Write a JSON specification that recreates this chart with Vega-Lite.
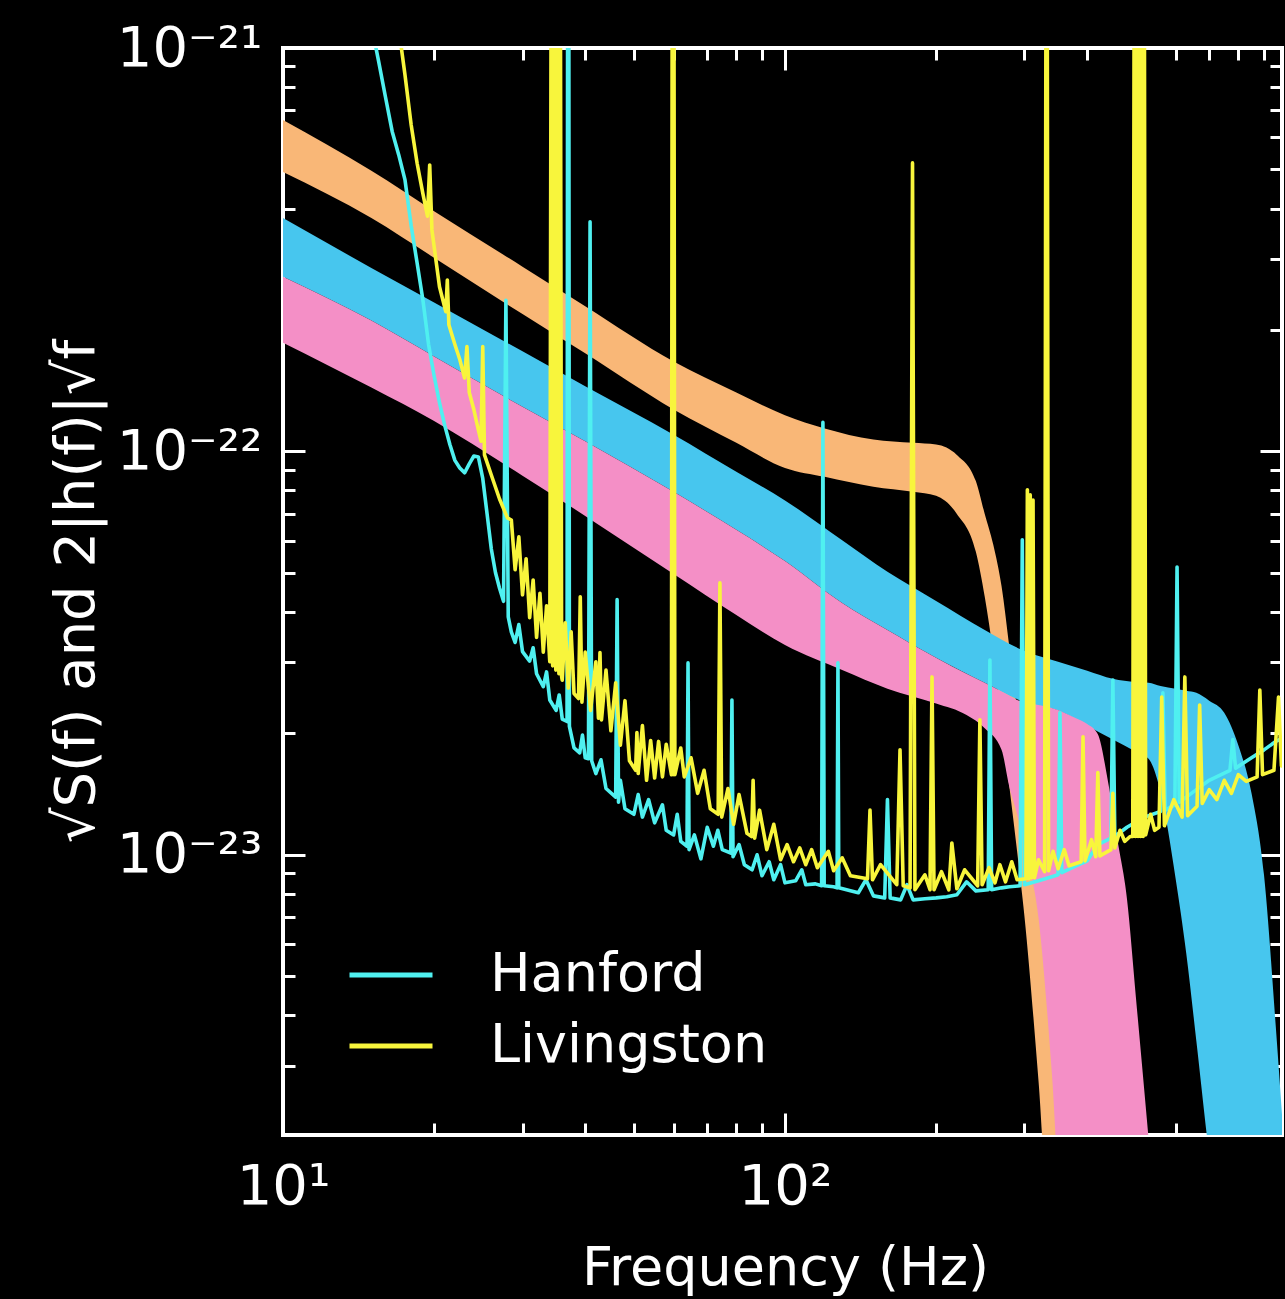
{
"$schema": "https://vega.github.io/schema/vega-lite/v6.json",
"width": 999,
"height": 1087,
"autosize": {"type": "none"},
"padding": {"left": 283, "top": 48, "right": 3, "bottom": 164},
"background": "black",
"config": {
  "view": {"stroke": "white", "strokeWidth": 4, "fill": "black"},
  "axis": {"domain": false, "grid": false, "tickColor": "white", "tickWidth": 3, "labelColor": "white", "titleColor": "white", "labelFont": "DejaVu Sans", "titleFont": "DejaVu Sans", "labelFontSize": 56, "titleFontSize": 54, "titleFontWeight": "normal", "labelOverlap": false, "labelFlush": false, "labelBound": false}
},
"datasets": {
"bands": [
{"band":"waveform 1","f":10,"hi":6.63e-22,"lo":4.93e-22},
{"band":"waveform 1","f":15,"hi":4.96e-22,"lo":3.79e-22},
{"band":"waveform 1","f":20,"hi":3.94e-22,"lo":3.02e-22},
{"band":"waveform 1","f":30,"hi":2.87e-22,"lo":2.19e-22},
{"band":"waveform 1","f":40,"hi":2.29e-22,"lo":1.75e-22},
{"band":"waveform 1","f":60,"hi":1.67e-22,"lo":1.27e-22},
{"band":"waveform 1","f":80,"hi":1.40e-22,"lo":1.05e-22},
{"band":"waveform 1","f":100,"hi":1.23e-22,"lo":9.10e-23},
{"band":"waveform 1","f":120,"hi":1.14e-22,"lo":8.65e-23},
{"band":"waveform 1","f":150,"hi":1.07e-22,"lo":8.17e-23},
{"band":"waveform 1","f":180,"hi":1.05e-22,"lo":7.94e-23},
{"band":"waveform 1","f":200,"hi":1.04e-22,"lo":7.76e-23},
{"band":"waveform 1","f":220,"hi":9.80e-23,"lo":7.00e-23},
{"band":"waveform 1","f":240,"hi":8.45e-23,"lo":5.64e-23},
{"band":"waveform 1","f":250,"hi":7.00e-23,"lo":4.36e-23},
{"band":"waveform 1","f":260,"hi":5.87e-23,"lo":3.15e-23},
{"band":"waveform 1","f":270,"hi":4.64e-23,"lo":2.14e-23},
{"band":"waveform 1","f":280,"hi":3.26e-23,"lo":1.47e-23},
{"band":"waveform 1","f":290,"hi":2.28e-23,"lo":1.02e-23},
{"band":"waveform 1","f":300,"hi":1.60e-23,"lo":7.02e-24},
{"band":"waveform 1","f":320,"hi":7.87e-24,"lo":2.74e-24},
{"band":"waveform 1","f":340,"hi":3.52e-24,"lo":1e-24},
{"band":"waveform 1","f":360,"hi":1.54e-24,"lo":1e-24},
{"band":"waveform 2","f":10,"hi":3.79e-22,"lo":2.71e-22},
{"band":"waveform 2","f":15,"hi":2.85e-22,"lo":2.11e-22},
{"band":"waveform 2","f":20,"hi":2.34e-22,"lo":1.72e-22},
{"band":"waveform 2","f":30,"hi":1.77e-22,"lo":1.29e-22},
{"band":"waveform 2","f":40,"hi":1.45e-22,"lo":1.06e-22},
{"band":"waveform 2","f":60,"hi":1.10e-22,"lo":7.94e-23},
{"band":"waveform 2","f":80,"hi":8.90e-23,"lo":6.39e-23},
{"band":"waveform 2","f":100,"hi":7.56e-23,"lo":5.35e-23},
{"band":"waveform 2","f":130,"hi":6.02e-23,"lo":4.21e-23},
{"band":"waveform 2","f":160,"hi":5.03e-23,"lo":3.61e-23},
{"band":"waveform 2","f":200,"hi":4.26e-23,"lo":3.08e-23},
{"band":"waveform 2","f":250,"hi":3.61e-23,"lo":2.67e-23},
{"band":"waveform 2","f":300,"hi":3.20e-23,"lo":2.39e-23},
{"band":"waveform 2","f":350,"hi":3.01e-23,"lo":2.28e-23},
{"band":"waveform 2","f":400,"hi":2.86e-23,"lo":2.09e-23},
{"band":"waveform 2","f":450,"hi":2.73e-23,"lo":1.93e-23},
{"band":"waveform 2","f":500,"hi":2.68e-23,"lo":1.80e-23},
{"band":"waveform 2","f":530,"hi":2.67e-23,"lo":1.73e-23},
{"band":"waveform 2","f":560,"hi":2.62e-23,"lo":1.43e-23},
{"band":"waveform 2","f":600,"hi":2.58e-23,"lo":8.74e-24},
{"band":"waveform 2","f":630,"hi":2.55e-23,"lo":5.70e-24},
{"band":"waveform 2","f":660,"hi":2.52e-23,"lo":3.45e-24},
{"band":"waveform 2","f":700,"hi":2.41e-23,"lo":1.8e-24},
{"band":"waveform 2","f":750,"hi":2.25e-23,"lo":1e-24},
{"band":"waveform 2","f":800,"hi":1.87e-23,"lo":1e-24},
{"band":"waveform 2","f":850,"hi":1.42e-23,"lo":1e-24},
{"band":"waveform 2","f":900,"hi":8.92e-24,"lo":1e-24},
{"band":"waveform 2","f":950,"hi":3.75e-24,"lo":1e-24},
{"band":"waveform 2","f":1000,"hi":1.50e-24,"lo":1e-24},
{"band":"waveform 3","f":10,"hi":2.71e-22,"lo":1.86e-22},
{"band":"waveform 3","f":15,"hi":2.11e-22,"lo":1.44e-22},
{"band":"waveform 3","f":20,"hi":1.72e-22,"lo":1.19e-22},
{"band":"waveform 3","f":30,"hi":1.29e-22,"lo":8.70e-23},
{"band":"waveform 3","f":40,"hi":1.06e-22,"lo":6.92e-23},
{"band":"waveform 3","f":60,"hi":7.94e-23,"lo":4.97e-23},
{"band":"waveform 3","f":80,"hi":6.39e-23,"lo":3.93e-23},
{"band":"waveform 3","f":100,"hi":5.35e-23,"lo":3.31e-23},
{"band":"waveform 3","f":130,"hi":4.21e-23,"lo":2.87e-23},
{"band":"waveform 3","f":160,"hi":3.61e-23,"lo":2.58e-23},
{"band":"waveform 3","f":200,"hi":3.08e-23,"lo":2.37e-23},
{"band":"waveform 3","f":230,"hi":2.81e-23,"lo":2.22e-23},
{"band":"waveform 3","f":250,"hi":2.67e-23,"lo":2.06e-23},
{"band":"waveform 3","f":270,"hi":2.54e-23,"lo":1.82e-23},
{"band":"waveform 3","f":280,"hi":2.48e-23,"lo":1.47e-23},
{"band":"waveform 3","f":290,"hi":2.42e-23,"lo":1.26e-23},
{"band":"waveform 3","f":300,"hi":2.39e-23,"lo":1.04e-23},
{"band":"waveform 3","f":320,"hi":2.35e-23,"lo":6.96e-24},
{"band":"waveform 3","f":340,"hi":2.31e-23,"lo":2.90e-24},
{"band":"waveform 3","f":360,"hi":2.25e-23,"lo":1e-24},
{"band":"waveform 3","f":380,"hi":2.18e-23,"lo":1e-24},
{"band":"waveform 3","f":400,"hi":2.11e-23,"lo":1e-24},
{"band":"waveform 3","f":420,"hi":1.99e-23,"lo":1e-24},
{"band":"waveform 3","f":440,"hi":1.52e-23,"lo":1e-24},
{"band":"waveform 3","f":460,"hi":1.08e-23,"lo":1e-24},
{"band":"waveform 3","f":480,"hi":7.78e-24,"lo":1e-24},
{"band":"waveform 3","f":500,"hi":4.45e-24,"lo":1e-24},
{"band":"waveform 3","f":550,"hi":1.18e-24,"lo":1e-24}
],
"noise": [
{"detector":"Hanford","f":15.2,"asd":1.05e-21},
{"detector":"Hanford","f":15.5,"asd":9.29e-22},
{"detector":"Hanford","f":16,"asd":7.56e-22},
{"detector":"Hanford","f":16.5,"asd":6.21e-22},
{"detector":"Hanford","f":17,"asd":5.44e-22},
{"detector":"Hanford","f":17.5,"asd":4.71e-22},
{"detector":"Hanford","f":18,"asd":3.63e-22},
{"detector":"Hanford","f":18.5,"asd":2.93e-22},
{"detector":"Hanford","f":19,"asd":2.37e-22},
{"detector":"Hanford","f":19.5,"asd":1.84e-22},
{"detector":"Hanford","f":20,"asd":1.54e-22},
{"detector":"Hanford","f":20.5,"asd":1.32e-22},
{"detector":"Hanford","f":21,"asd":1.16e-22},
{"detector":"Hanford","f":21.5,"asd":1.04e-22},
{"detector":"Hanford","f":22,"asd":9.50e-23},
{"detector":"Hanford","f":22.5,"asd":9.10e-23},
{"detector":"Hanford","f":23,"asd":8.85e-23},
{"detector":"Hanford","f":23.5,"asd":9.31e-23},
{"detector":"Hanford","f":24,"asd":9.74e-23},
{"detector":"Hanford","f":24.5,"asd":9.69e-23},
{"detector":"Hanford","f":25,"asd":8.57e-23},
{"detector":"Hanford","f":25.5,"asd":7.00e-23},
{"detector":"Hanford","f":26,"asd":5.73e-23},
{"detector":"Hanford","f":26.5,"asd":5.01e-23},
{"detector":"Hanford","f":27,"asd":4.58e-23},
{"detector":"Hanford","f":27.5,"asd":4.25e-23},
{"detector":"Hanford","f":27.8,"asd":2.37e-22},
{"detector":"Hanford","f":28.1,"asd":3.89e-23},
{"detector":"Hanford","f":28.5,"asd":3.57e-23},
{"detector":"Hanford","f":29,"asd":3.36e-23},
{"detector":"Hanford","f":29.5,"asd":3.72e-23},
{"detector":"Hanford","f":30,"asd":3.19e-23},
{"detector":"Hanford","f":31,"asd":3.02e-23},
{"detector":"Hanford","f":31.5,"asd":3.26e-23},
{"detector":"Hanford","f":32,"asd":2.81e-23},
{"detector":"Hanford","f":33,"asd":2.61e-23},
{"detector":"Hanford","f":33.5,"asd":2.84e-23},
{"detector":"Hanford","f":34,"asd":2.42e-23},
{"detector":"Hanford","f":35,"asd":2.28e-23},
{"detector":"Hanford","f":35.5,"asd":2.49e-23},
{"detector":"Hanford","f":36,"asd":2.17e-23},
{"detector":"Hanford","f":36.8,"asd":2.14e-23},
{"detector":"Hanford","f":36.9,"asd":1.5e-21},
{"detector":"Hanford","f":37.1,"asd":1.5e-21},
{"detector":"Hanford","f":37.2,"asd":2.08e-23},
{"detector":"Hanford","f":38,"asd":1.84e-23},
{"detector":"Hanford","f":39,"asd":1.79e-23},
{"detector":"Hanford","f":39.5,"asd":1.98e-23},
{"detector":"Hanford","f":40,"asd":1.74e-23},
{"detector":"Hanford","f":40.6,"asd":1.73e-23},
{"detector":"Hanford","f":40.9,"asd":3.71e-22},
{"detector":"Hanford","f":41.2,"asd":1.71e-23},
{"detector":"Hanford","f":42,"asd":1.59e-23},
{"detector":"Hanford","f":43,"asd":1.72e-23},
{"detector":"Hanford","f":44,"asd":1.46e-23},
{"detector":"Hanford","f":46,"asd":1.39e-23},
{"detector":"Hanford","f":46.3,"asd":4.29e-23},
{"detector":"Hanford","f":46.6,"asd":1.35e-23},
{"detector":"Hanford","f":47,"asd":1.53e-23},
{"detector":"Hanford","f":48,"asd":1.30e-23},
{"detector":"Hanford","f":50,"asd":1.26e-23},
{"detector":"Hanford","f":51,"asd":1.41e-23},
{"detector":"Hanford","f":52,"asd":1.24e-23},
{"detector":"Hanford","f":53.5,"asd":1.37e-23},
{"detector":"Hanford","f":55,"asd":1.20e-23},
{"detector":"Hanford","f":57,"asd":1.33e-23},
{"detector":"Hanford","f":58,"asd":1.15e-23},
{"detector":"Hanford","f":60,"asd":1.12e-23},
{"detector":"Hanford","f":61,"asd":1.26e-23},
{"detector":"Hanford","f":62,"asd":1.08e-23},
{"detector":"Hanford","f":63.8,"asd":1.05e-23},
{"detector":"Hanford","f":64.1,"asd":2.99e-23},
{"detector":"Hanford","f":64.4,"asd":1.03e-23},
{"detector":"Hanford","f":66,"asd":1.12e-23},
{"detector":"Hanford","f":68,"asd":9.77e-24},
{"detector":"Hanford","f":70,"asd":1.17e-23},
{"detector":"Hanford","f":72,"asd":1.05e-23},
{"detector":"Hanford","f":73.5,"asd":1.15e-23},
{"detector":"Hanford","f":75,"asd":1.03e-23},
{"detector":"Hanford","f":78,"asd":1.01e-23},
{"detector":"Hanford","f":78.4,"asd":2.42e-23},
{"detector":"Hanford","f":78.8,"asd":9.89e-24},
{"detector":"Hanford","f":81,"asd":1.06e-23},
{"detector":"Hanford","f":83,"asd":9.45e-24},
{"detector":"Hanford","f":86,"asd":9.18e-24},
{"detector":"Hanford","f":88,"asd":1.00e-23},
{"detector":"Hanford","f":90,"asd":8.87e-24},
{"detector":"Hanford","f":93,"asd":9.61e-24},
{"detector":"Hanford","f":95,"asd":8.67e-24},
{"detector":"Hanford","f":98,"asd":9.45e-24},
{"detector":"Hanford","f":100,"asd":8.52e-24},
{"detector":"Hanford","f":105,"asd":8.62e-24},
{"detector":"Hanford","f":108,"asd":9.18e-24},
{"detector":"Hanford","f":110,"asd":8.43e-24},
{"detector":"Hanford","f":115,"asd":8.47e-24},
{"detector":"Hanford","f":118.3,"asd":8.38e-24},
{"detector":"Hanford","f":119,"asd":1.18e-22},
{"detector":"Hanford","f":119.7,"asd":8.38e-24},
{"detector":"Hanford","f":125,"asd":8.33e-24},
{"detector":"Hanford","f":127,"asd":8.28e-24},
{"detector":"Hanford","f":127.5,"asd":2.99e-23},
{"detector":"Hanford","f":128,"asd":8.28e-24},
{"detector":"Hanford","f":135,"asd":8.14e-24},
{"detector":"Hanford","f":140,"asd":8.05e-24},
{"detector":"Hanford","f":145,"asd":8.67e-24},
{"detector":"Hanford","f":150,"asd":7.91e-24},
{"detector":"Hanford","f":158,"asd":7.82e-24},
{"detector":"Hanford","f":160,"asd":1.37e-23},
{"detector":"Hanford","f":162,"asd":7.82e-24},
{"detector":"Hanford","f":170,"asd":7.73e-24},
{"detector":"Hanford","f":175,"asd":8.43e-24},
{"detector":"Hanford","f":180,"asd":7.73e-24},
{"detector":"Hanford","f":190,"asd":7.78e-24},
{"detector":"Hanford","f":200,"asd":7.82e-24},
{"detector":"Hanford","f":210,"asd":7.87e-24},
{"detector":"Hanford","f":220,"asd":7.96e-24},
{"detector":"Hanford","f":230,"asd":8.57e-24},
{"detector":"Hanford","f":240,"asd":8.14e-24},
{"detector":"Hanford","f":254,"asd":8.19e-24},
{"detector":"Hanford","f":256,"asd":3.04e-23},
{"detector":"Hanford","f":258,"asd":8.19e-24},
{"detector":"Hanford","f":270,"asd":8.28e-24},
{"detector":"Hanford","f":280,"asd":8.33e-24},
{"detector":"Hanford","f":294,"asd":8.38e-24},
{"detector":"Hanford","f":297,"asd":6.04e-23},
{"detector":"Hanford","f":300,"asd":8.43e-24},
{"detector":"Hanford","f":320,"asd":8.62e-24},
{"detector":"Hanford","f":340,"asd":8.82e-24},
{"detector":"Hanford","f":350,"asd":8.92e-24},
{"detector":"Hanford","f":353,"asd":2.25e-23},
{"detector":"Hanford","f":356,"asd":9.03e-24},
{"detector":"Hanford","f":380,"asd":9.39e-24},
{"detector":"Hanford","f":400,"asd":9.66e-24},
{"detector":"Hanford","f":420,"asd":1.06e-23},
{"detector":"Hanford","f":446,"asd":1.10e-23},
{"detector":"Hanford","f":450,"asd":2.71e-23},
{"detector":"Hanford","f":454,"asd":1.11e-23},
{"detector":"Hanford","f":480,"asd":1.17e-23},
{"detector":"Hanford","f":520,"asd":1.24e-23},
{"detector":"Hanford","f":560,"asd":1.28e-23},
{"detector":"Hanford","f":566,"asd":2.52e-23},
{"detector":"Hanford","f":572,"asd":1.29e-23},
{"detector":"Hanford","f":598,"asd":1.33e-23},
{"detector":"Hanford","f":604,"asd":5.17e-23},
{"detector":"Hanford","f":610,"asd":1.35e-23},
{"detector":"Hanford","f":650,"asd":1.43e-23},
{"detector":"Hanford","f":700,"asd":1.53e-23},
{"detector":"Hanford","f":770,"asd":1.62e-23},
{"detector":"Hanford","f":780,"asd":1.93e-23},
{"detector":"Hanford","f":790,"asd":1.64e-23},
{"detector":"Hanford","f":850,"asd":1.74e-23},
{"detector":"Hanford","f":900,"asd":1.82e-23},
{"detector":"Hanford","f":950,"asd":1.91e-23},
{"detector":"Hanford","f":1000,"asd":1.97e-23},
{"detector":"Livingston","f":17,"asd":1.12e-21},
{"detector":"Livingston","f":17.5,"asd":8.57e-22},
{"detector":"Livingston","f":18,"asd":6.45e-22},
{"detector":"Livingston","f":18.5,"asd":5.18e-22},
{"detector":"Livingston","f":19,"asd":4.35e-22},
{"detector":"Livingston","f":19.4,"asd":3.83e-22},
{"detector":"Livingston","f":19.6,"asd":5.13e-22},
{"detector":"Livingston","f":19.8,"asd":3.54e-22},
{"detector":"Livingston","f":20.5,"asd":2.56e-22},
{"detector":"Livingston","f":21.1,"asd":2.22e-22},
{"detector":"Livingston","f":21.25,"asd":2.66e-22},
{"detector":"Livingston","f":21.4,"asd":2.06e-22},
{"detector":"Livingston","f":22,"asd":1.84e-22},
{"detector":"Livingston","f":22.5,"asd":1.69e-22},
{"detector":"Livingston","f":23,"asd":1.52e-22},
{"detector":"Livingston","f":23.25,"asd":1.82e-22},
{"detector":"Livingston","f":23.5,"asd":1.40e-22},
{"detector":"Livingston","f":24,"asd":1.27e-22},
{"detector":"Livingston","f":24.5,"asd":1.13e-22},
{"detector":"Livingston","f":24.8,"asd":1.06e-22},
{"detector":"Livingston","f":25,"asd":1.82e-22},
{"detector":"Livingston","f":25.2,"asd":9.80e-23},
{"detector":"Livingston","f":26,"asd":8.74e-23},
{"detector":"Livingston","f":27,"asd":7.62e-23},
{"detector":"Livingston","f":28,"asd":6.84e-23},
{"detector":"Livingston","f":28.5,"asd":6.76e-23},
{"detector":"Livingston","f":29,"asd":5.09e-23},
{"detector":"Livingston","f":29.5,"asd":6.14e-23},
{"detector":"Livingston","f":30,"asd":4.41e-23},
{"detector":"Livingston","f":30.5,"asd":5.42e-23},
{"detector":"Livingston","f":31,"asd":3.87e-23},
{"detector":"Livingston","f":31.5,"asd":4.80e-23},
{"detector":"Livingston","f":32,"asd":3.46e-23},
{"detector":"Livingston","f":32.5,"asd":4.45e-23},
{"detector":"Livingston","f":33,"asd":3.18e-23},
{"detector":"Livingston","f":33.5,"asd":4.14e-23},
{"detector":"Livingston","f":34,"asd":3.01e-23},
{"detector":"Livingston","f":34.2,"asd":1.3e-21},
{"detector":"Livingston","f":34.45,"asd":2.94e-23},
{"detector":"Livingston","f":34.7,"asd":1.3e-21},
{"detector":"Livingston","f":34.95,"asd":2.87e-23},
{"detector":"Livingston","f":35.2,"asd":1.3e-21},
{"detector":"Livingston","f":35.45,"asd":2.81e-23},
{"detector":"Livingston","f":35.7,"asd":1.3e-21},
{"detector":"Livingston","f":35.9,"asd":2.76e-23},
{"detector":"Livingston","f":36,"asd":2.71e-23},
{"detector":"Livingston","f":36.5,"asd":3.76e-23},
{"detector":"Livingston","f":37,"asd":2.59e-23},
{"detector":"Livingston","f":37.5,"asd":3.57e-23},
{"detector":"Livingston","f":38,"asd":2.51e-23},
{"detector":"Livingston","f":38.8,"asd":2.44e-23},
{"detector":"Livingston","f":39.1,"asd":4.36e-23},
{"detector":"Livingston","f":39.4,"asd":2.39e-23},
{"detector":"Livingston","f":40,"asd":3.18e-23},
{"detector":"Livingston","f":41,"asd":2.28e-23},
{"detector":"Livingston","f":42,"asd":3.01e-23},
{"detector":"Livingston","f":42.5,"asd":2.18e-23},
{"detector":"Livingston","f":42.8,"asd":3.17e-23},
{"detector":"Livingston","f":43.1,"asd":2.16e-23},
{"detector":"Livingston","f":44,"asd":2.87e-23},
{"detector":"Livingston","f":45,"asd":2.03e-23},
{"detector":"Livingston","f":46,"asd":2.67e-23},
{"detector":"Livingston","f":47,"asd":1.87e-23},
{"detector":"Livingston","f":48,"asd":2.41e-23},
{"detector":"Livingston","f":49,"asd":1.71e-23},
{"detector":"Livingston","f":50.4,"asd":1.62e-23},
{"detector":"Livingston","f":50.7,"asd":2.01e-23},
{"detector":"Livingston","f":51,"asd":1.59e-23},
{"detector":"Livingston","f":52,"asd":2.09e-23},
{"detector":"Livingston","f":53,"asd":1.53e-23},
{"detector":"Livingston","f":54,"asd":1.92e-23},
{"detector":"Livingston","f":55,"asd":1.55e-23},
{"detector":"Livingston","f":56,"asd":1.91e-23},
{"detector":"Livingston","f":57,"asd":1.56e-23},
{"detector":"Livingston","f":58,"asd":1.88e-23},
{"detector":"Livingston","f":59.4,"asd":1.58e-23},
{"detector":"Livingston","f":59.6,"asd":1.3e-21},
{"detector":"Livingston","f":59.85,"asd":1.58e-23},
{"detector":"Livingston","f":60.1,"asd":1.3e-21},
{"detector":"Livingston","f":60.35,"asd":1.58e-23},
{"detector":"Livingston","f":62,"asd":1.84e-23},
{"detector":"Livingston","f":63,"asd":1.56e-23},
{"detector":"Livingston","f":65,"asd":1.74e-23},
{"detector":"Livingston","f":67,"asd":1.42e-23},
{"detector":"Livingston","f":69,"asd":1.62e-23},
{"detector":"Livingston","f":71,"asd":1.30e-23},
{"detector":"Livingston","f":73.6,"asd":1.26e-23},
{"detector":"Livingston","f":74.2,"asd":4.72e-23},
{"detector":"Livingston","f":74.8,"asd":1.24e-23},
{"detector":"Livingston","f":77,"asd":1.46e-23},
{"detector":"Livingston","f":79,"asd":1.19e-23},
{"detector":"Livingston","f":81,"asd":1.41e-23},
{"detector":"Livingston","f":84,"asd":1.13e-23},
{"detector":"Livingston","f":85.8,"asd":1.11e-23},
{"detector":"Livingston","f":86.4,"asd":1.53e-23},
{"detector":"Livingston","f":87,"asd":1.10e-23},
{"detector":"Livingston","f":89,"asd":1.29e-23},
{"detector":"Livingston","f":92,"asd":1.03e-23},
{"detector":"Livingston","f":95,"asd":1.19e-23},
{"detector":"Livingston","f":98,"asd":9.72e-24},
{"detector":"Livingston","f":101,"asd":1.06e-23},
{"detector":"Livingston","f":104,"asd":9.61e-24},
{"detector":"Livingston","f":107,"asd":1.04e-23},
{"detector":"Livingston","f":110,"asd":9.45e-24},
{"detector":"Livingston","f":113,"asd":1.03e-23},
{"detector":"Livingston","f":116,"asd":9.29e-24},
{"detector":"Livingston","f":122,"asd":1.02e-23},
{"detector":"Livingston","f":125,"asd":9.13e-24},
{"detector":"Livingston","f":130,"asd":9.83e-24},
{"detector":"Livingston","f":135,"asd":8.87e-24},
{"detector":"Livingston","f":146,"asd":8.72e-24},
{"detector":"Livingston","f":147.7,"asd":1.29e-23},
{"detector":"Livingston","f":149.4,"asd":8.67e-24},
{"detector":"Livingston","f":155,"asd":9.45e-24},
{"detector":"Livingston","f":167,"asd":8.43e-24},
{"detector":"Livingston","f":169.5,"asd":1.82e-23},
{"detector":"Livingston","f":172,"asd":8.38e-24},
{"detector":"Livingston","f":177.5,"asd":8.28e-24},
{"detector":"Livingston","f":179.5,"asd":5.19e-22},
{"detector":"Livingston","f":181.5,"asd":8.19e-24},
{"detector":"Livingston","f":190,"asd":8.92e-24},
{"detector":"Livingston","f":194.5,"asd":8.19e-24},
{"detector":"Livingston","f":196.3,"asd":2.76e-23},
{"detector":"Livingston","f":198.1,"asd":8.19e-24},
{"detector":"Livingston","f":205,"asd":9.08e-24},
{"detector":"Livingston","f":212,"asd":8.19e-24},
{"detector":"Livingston","f":215,"asd":1.07e-23},
{"detector":"Livingston","f":220,"asd":8.24e-24},
{"detector":"Livingston","f":228,"asd":9.18e-24},
{"detector":"Livingston","f":242,"asd":8.38e-24},
{"detector":"Livingston","f":244.5,"asd":2.16e-23},
{"detector":"Livingston","f":247,"asd":8.43e-24},
{"detector":"Livingston","f":255,"asd":9.29e-24},
{"detector":"Livingston","f":262,"asd":8.52e-24},
{"detector":"Livingston","f":268,"asd":9.45e-24},
{"detector":"Livingston","f":275,"asd":8.57e-24},
{"detector":"Livingston","f":283,"asd":9.61e-24},
{"detector":"Livingston","f":290,"asd":8.67e-24},
{"detector":"Livingston","f":302,"asd":8.72e-24},
{"detector":"Livingston","f":304,"asd":8.03e-23},
{"detector":"Livingston","f":306,"asd":8.72e-24},
{"detector":"Livingston","f":308,"asd":7.80e-23},
{"detector":"Livingston","f":310,"asd":8.77e-24},
{"detector":"Livingston","f":312,"asd":7.58e-23},
{"detector":"Livingston","f":314,"asd":8.77e-24},
{"detector":"Livingston","f":320,"asd":9.72e-24},
{"detector":"Livingston","f":329,"asd":9.08e-24},
{"detector":"Livingston","f":331,"asd":1.3e-21},
{"detector":"Livingston","f":333,"asd":1.3e-21},
{"detector":"Livingston","f":335,"asd":9.13e-24},
{"detector":"Livingston","f":342,"asd":1.02e-23},
{"detector":"Livingston","f":350,"asd":9.23e-24},
{"detector":"Livingston","f":360,"asd":1.03e-23},
{"detector":"Livingston","f":368,"asd":9.39e-24},
{"detector":"Livingston","f":389,"asd":9.61e-24},
{"detector":"Livingston","f":392.4,"asd":1.96e-23},
{"detector":"Livingston","f":396,"asd":9.66e-24},
{"detector":"Livingston","f":408,"asd":1.09e-23},
{"detector":"Livingston","f":416,"asd":9.89e-24},
{"detector":"Livingston","f":420,"asd":1.60e-23},
{"detector":"Livingston","f":424,"asd":9.94e-24},
{"detector":"Livingston","f":446,"asd":1.03e-23},
{"detector":"Livingston","f":450,"asd":1.42e-23},
{"detector":"Livingston","f":454,"asd":1.04e-23},
{"detector":"Livingston","f":465,"asd":1.15e-23},
{"detector":"Livingston","f":475,"asd":1.08e-23},
{"detector":"Livingston","f":487,"asd":1.11e-23},
{"detector":"Livingston","f":493,"asd":1.11e-23},
{"detector":"Livingston","f":496,"asd":1.3e-21},
{"detector":"Livingston","f":499,"asd":1.11e-23},
{"detector":"Livingston","f":502,"asd":1.3e-21},
{"detector":"Livingston","f":505,"asd":1.11e-23},
{"detector":"Livingston","f":508,"asd":1.3e-21},
{"detector":"Livingston","f":511,"asd":1.11e-23},
{"detector":"Livingston","f":514,"asd":1.3e-21},
{"detector":"Livingston","f":517,"asd":1.11e-23},
{"detector":"Livingston","f":520,"asd":1.3e-21},
{"detector":"Livingston","f":523,"asd":1.12e-23},
{"detector":"Livingston","f":535,"asd":1.26e-23},
{"detector":"Livingston","f":545,"asd":1.15e-23},
{"detector":"Livingston","f":556,"asd":1.17e-23},
{"detector":"Livingston","f":563,"asd":2.46e-23},
{"detector":"Livingston","f":570,"asd":1.18e-23},
{"detector":"Livingston","f":595,"asd":1.37e-23},
{"detector":"Livingston","f":618,"asd":1.24e-23},
{"detector":"Livingston","f":626,"asd":2.76e-23},
{"detector":"Livingston","f":634,"asd":1.25e-23},
{"detector":"Livingston","f":662,"asd":1.32e-23},
{"detector":"Livingston","f":670,"asd":2.35e-23},
{"detector":"Livingston","f":678,"asd":1.34e-23},
{"detector":"Livingston","f":700,"asd":1.45e-23},
{"detector":"Livingston","f":725,"asd":1.37e-23},
{"detector":"Livingston","f":750,"asd":1.53e-23},
{"detector":"Livingston","f":775,"asd":1.42e-23},
{"detector":"Livingston","f":800,"asd":1.58e-23},
{"detector":"Livingston","f":830,"asd":1.52e-23},
{"detector":"Livingston","f":872,"asd":1.56e-23},
{"detector":"Livingston","f":883,"asd":2.56e-23},
{"detector":"Livingston","f":894,"asd":1.58e-23},
{"detector":"Livingston","f":942,"asd":1.62e-23},
{"detector":"Livingston","f":962,"asd":2.46e-23},
{"detector":"Livingston","f":975,"asd":1.66e-23},
{"detector":"Livingston","f":1000,"asd":1.70e-23}
]
},
"layer": [
{
  "data": {"name": "bands"},
  "transform": [{"filter": "datum.band === 'waveform 1'"}],
  "mark": {"type": "area", "color": "#f9b777", "opacity": 1, "clip": true, "interpolate": "monotone"},
  "encoding": {
    "x": {"field": "f", "type": "quantitative", "scale": {"type": "log", "domain": [10, 977.5], "nice": false},
      "axis": {"orient": "bottom", "values": [10,20,30,40,50,60,70,80,90,100,200,300,400,500,600,700,800,900,1000],
        "labelExpr": "datum.value == 10 ? '10¹' : datum.value == 100 ? '10²' : datum.value == 1000 ? '10³' : ''",
        "tickSize": {"condition": {"test": "datum.value == 10 || datum.value == 100 || datum.value == 1000", "value": -22}, "value": -12},
        "labelPadding": 73, "labelBaseline": "middle", "labelAlign": "center",
        "title": "Frequency (Hz)", "titleX": 502, "titleY": 149, "titleBaseline": "alphabetic", "titleAlign": "center", "titleAnchor": "start"}},
    "y": {"field": "hi", "type": "quantitative", "scale": {"type": "log", "domain": [2.02e-24, 1e-21], "nice": false},
      "axis": {"orient": "left", "values": [1e-21,9e-22,8e-22,7e-22,6e-22,5e-22,4e-22,3e-22,2e-22,1e-22,9e-23,8e-23,7e-23,6e-23,5e-23,4e-23,3e-23,2e-23,1e-23,9e-24,8e-24,7e-24,6e-24,5e-24,4e-24,3e-24],
        "labelExpr": "abs(datum.value / 1e-21 - 1) < 0.01 ? '10⁻²¹' : abs(datum.value / 1e-22 - 1) < 0.01 ? '10⁻²²' : abs(datum.value / 1e-23 - 1) < 0.01 ? '10⁻²³' : ''",
        "tickSize": {"condition": {"test": "abs(datum.value / 1e-21 - 1) < 0.01 || abs(datum.value / 1e-22 - 1) < 0.01 || abs(datum.value / 1e-23 - 1) < 0.01", "value": -22}, "value": -12},
        "labelPadding": 43, "labelAlign": "right", "labelBaseline": "middle",
        "title": "√S(f) and 2|h(f)|√f", "titleFontSize": 56, "titleX": -190, "titleY": 543, "titleAngle": -90, "titleBaseline": "alphabetic", "titleAlign": "center", "titleAnchor": "start"}},
    "y2": {"field": "lo"}
  }
},
{
  "data": {"name": "bands"},
  "transform": [{"filter": "datum.band === 'waveform 2'"}],
  "mark": {"type": "area", "color": "#47c6ee", "opacity": 1, "clip": true, "interpolate": "monotone"},
  "encoding": {
    "x": {"field": "f", "type": "quantitative", "scale": {"type": "log", "domain": [10, 977.5], "nice": false},
      "axis": {"orient": "top", "values": [10,20,30,40,50,60,70,80,90,100,200,300,400,500,600,700,800,900,1000], "labels": false, "title": null,
        "tickSize": {"condition": {"test": "datum.value == 10 || datum.value == 100 || datum.value == 1000", "value": -22}, "value": -12}}},
    "y": {"field": "hi", "type": "quantitative", "scale": {"type": "log", "domain": [2.02e-24, 1e-21], "nice": false},
      "axis": {"orient": "right", "values": [1e-21,9e-22,8e-22,7e-22,6e-22,5e-22,4e-22,3e-22,2e-22,1e-22,9e-23,8e-23,7e-23,6e-23,5e-23,4e-23,3e-23,2e-23,1e-23,9e-24,8e-24,7e-24,6e-24,5e-24,4e-24,3e-24], "labels": false, "title": null,
        "tickSize": {"condition": {"test": "abs(datum.value / 1e-21 - 1) < 0.01 || abs(datum.value / 1e-22 - 1) < 0.01 || abs(datum.value / 1e-23 - 1) < 0.01", "value": -22}, "value": -12}}},
    "y2": {"field": "lo"}
  }
},
{
  "data": {"name": "bands"},
  "transform": [{"filter": "datum.band === 'waveform 3'"}],
  "mark": {"type": "area", "color": "#f48fc6", "opacity": 1, "clip": true, "interpolate": "monotone"},
  "encoding": {
    "x": {"field": "f", "type": "quantitative", "axis": null},
    "y": {"field": "hi", "type": "quantitative", "axis": null},
    "y2": {"field": "lo"}
  }
},
{
  "data": {"name": "noise"},
  "mark": {"type": "line", "clip": true, "strokeWidth": 3.6, "strokeJoin": "round"},
  "encoding": {
    "x": {"field": "f", "type": "quantitative", "axis": null},
    "y": {"field": "asd", "type": "quantitative", "axis": null},
    "color": {"field": "detector", "type": "nominal",
      "scale": {"domain": ["Hanford", "Livingston"], "range": ["#4ff0f0", "#f8f53c"]},
      "legend": {"orient": "none", "legendX": 64, "legendY": 883, "title": null, "symbolType": "stroke", "symbolSize": 6889, "symbolStrokeWidth": 5, "labelFontSize": 54, "labelFont": "DejaVu Sans", "labelColor": "white", "labelOffset": 55, "labelLimit": 0, "rowPadding": 0, "padding": 0}}
  }
}
],
"resolve": {"axis": {"x": "independent", "y": "independent"}}
}
